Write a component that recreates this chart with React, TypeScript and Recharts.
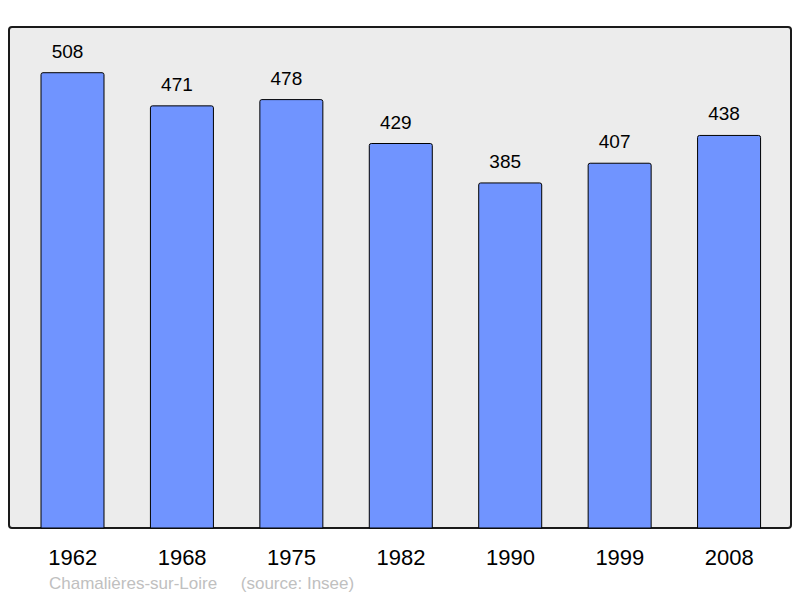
import React from "react";
import { BarChart, Bar, XAxis, YAxis, LabelList } from "recharts";

const years = ["1962", "1968", "1975", "1982", "1990", "1999", "2008"];
const population = [508, 471, 478, 429, 385, 407, 438];

const data = years.map((year, i) => ({ year, value: population[i] }));

const FONT = "'Liberation Sans', Arial, sans-serif";

export default function App() {
  return (
    <div style={{ position: "absolute", left: 0, top: 0, width: 800, height: 598, background: "#fff" }}>
      <div
        style={{
          position: "absolute",
          left: 8,
          top: 26,
          width: 780,
          height: 499,
          background: "#ececec",
          border: "2px solid #1a1a1a",
          borderRadius: 4,
        }}
      />
      <div style={{ position: "absolute", left: 0, top: 0 }}>
        <BarChart
          width={800}
          height={598}
          data={data}
          margin={{ top: 27, right: 8, bottom: 40, left: 9 }}
        >
          <XAxis
            dataKey="year"
            axisLine={false}
            tickLine={false}
            tickSize={6}
            tickMargin={15}
            padding={{ left: 9, right: 8 }}
            interval={0}
            tick={{ fill: "#000", fontSize: 22, fontFamily: FONT }}
            height={30}
          />
          <YAxis hide domain={[0, 559]} />
          <Bar
            dataKey="value"
            fill="#7094ff"
            stroke="#000"
            strokeWidth={1}
            barSize={63}
            radius={[2, 2, 0, 0]}
            isAnimationActive={false}
          >
            <LabelList
              dataKey="value"
              position="top"
              offset={15}
              dx={-5}
              fill="#000"
              fontSize={19}
              fontFamily={FONT}
            />
          </Bar>
        </BarChart>
      </div>
      <div
        style={{
          position: "absolute",
          left: 49,
          top: 574,
          fontFamily: FONT,
          fontSize: 17,
          color: "#c0c0c0",
          whiteSpace: "pre",
        }}
      >
        {"Chamalières-sur-Loire     (source: Insee)"}
      </div>
    </div>
  );
}
